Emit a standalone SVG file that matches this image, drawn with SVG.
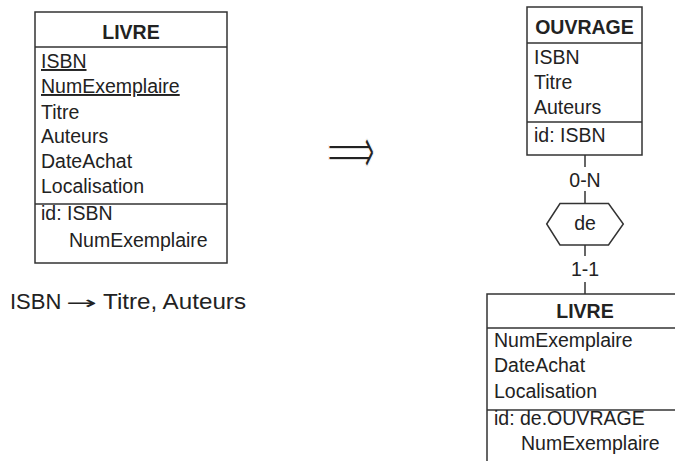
<svg xmlns="http://www.w3.org/2000/svg" width="675" height="461" viewBox="0 0 675 461">
<style>
.box{fill:#fff;stroke:#333;stroke-width:1.5}
.sep{stroke:#333;stroke-width:1.5}
.t{font-family:"Liberation Sans",Arial,sans-serif;font-size:19.5px;fill:#222}
.h{font-family:"Liberation Sans",Arial,sans-serif;font-size:19.5px;font-weight:bold;fill:#222;text-anchor:middle}
.c{text-anchor:middle}
.u{text-decoration:underline}
.conn{stroke:#333;stroke-width:1.5;fill:none}
</style>
<rect width="675" height="461" fill="#fff"/>
<g id="livre-left">
<rect class="box" x="35" y="12" width="192" height="251"/>
<line class="sep" x1="35" y1="47" x2="227" y2="47"/>
<line class="sep" x1="35" y1="204" x2="227" y2="204"/>
<text class="h" x="131" y="39">LIVRE</text>
<text class="t u" x="41" y="68">ISBN</text>
<text class="t u" x="41" y="93">NumExemplaire</text>
<text class="t" x="41" y="118.5">Titre</text>
<text class="t" x="41" y="143">Auteurs</text>
<text class="t" x="41" y="168">DateAchat</text>
<text class="t" x="41" y="193">Localisation</text>
<text class="t" x="41" y="220">id: ISBN</text>
<text class="t" x="69" y="247">NumExemplaire</text>
</g>
<g id="fd">
<text class="t" x="10" y="309" style="font-size:22px">ISBN <tspan x="66" font-family="DejaVu Sans" font-size="18" textLength="31" lengthAdjust="spacingAndGlyphs">→</tspan><tspan x="103" textLength="143" lengthAdjust="spacingAndGlyphs">Titre, Auteurs</tspan></text>
</g>
<g id="transform-arrow" transform="translate(327,174) scale(1,1.7)">
<text x="0" y="0" font-family="DejaVu Sans" font-size="40" fill="#222" stroke="#fff" stroke-width="1" textLength="48" lengthAdjust="spacingAndGlyphs">⟹</text>
</g>
<g id="ouvrage">
<rect class="box" x="527" y="7" width="115" height="148"/>
<line class="sep" x1="527" y1="43" x2="642" y2="43"/>
<line class="sep" x1="527" y1="122" x2="642" y2="122"/>
<text class="h" x="584.5" y="34">OUVRAGE</text>
<text class="t" x="534" y="64">ISBN</text>
<text class="t" x="534" y="89">Titre</text>
<text class="t" x="534" y="114">Auteurs</text>
<text class="t" x="534" y="142">id: ISBN</text>
</g>
<g id="de">
<polygon class="box" points="546.7,224 560,203.5 608.5,203.5 623.3,224 608.5,245 560,245"/>
<text class="t c" x="585" y="230">de</text>
</g>
<g id="livre-right">
<rect class="box" x="487" y="294" width="196" height="180"/>
<line class="sep" x1="487" y1="328" x2="683" y2="328"/>
<line class="sep" x1="487" y1="410" x2="683" y2="410"/>
<text class="h" x="585" y="318">LIVRE</text>
<text class="t" x="494" y="347">NumExemplaire</text>
<text class="t" x="494" y="372">DateAchat</text>
<text class="t" x="494" y="397.5">Localisation</text>
<text class="t" x="494" y="425">id: de.OUVRAGE</text>
<text class="t" x="521" y="450">NumExemplaire</text>
</g>
<g id="connectors">
<line class="conn" x1="585" y1="155" x2="585" y2="167"/>
<text class="t c" x="585" y="187">0-N</text>
<line class="conn" x1="585" y1="191" x2="585" y2="203.5"/>
<line class="conn" x1="585" y1="245" x2="585" y2="256"/>
<text class="t c" x="585" y="276">1-1</text>
<line class="conn" x1="585" y1="282" x2="585" y2="294"/>
</g>
</svg>
